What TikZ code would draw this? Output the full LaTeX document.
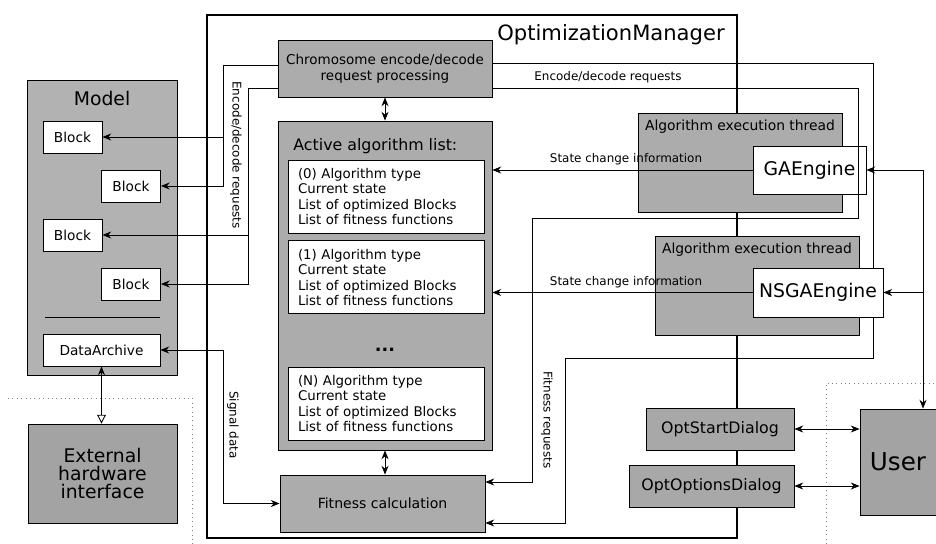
\documentclass[tikz,border=0pt]{standalone}
\usepackage{fontspec}
\setmainfont{DejaVu Sans}
\usetikzlibrary{positioning,arrows.meta,backgrounds}
\tikzstyle{area}=[draw, fill=gray!65, inner sep=0pt]
\tikzstyle{hwbox}=[draw, fill=gray!72, inner sep=0pt, align=center]
\tikzstyle{block}=[draw, fill=white, inner sep=0pt, minimum width=1.18cm, minimum height=0.64cm, font=\fontsize{7.8}{9}\selectfont]
\tikzstyle{entry}=[draw, fill=white, inner sep=0pt, align=left, text width=3.52cm, minimum width=3.92cm, minimum height=1.46cm, font=\fontsize{7.6}{8.8}\selectfont]
\tikzstyle{engine}=[draw, fill=white, inner sep=0pt, font=\fontsize{10.7}{12}\selectfont]
\tikzstyle{dialog}=[draw, fill=gray!68, inner sep=0pt, minimum height=0.84cm, font=\fontsize{9}{10}\selectfont]
\tikzstyle{heading}=[inner sep=1pt, font=\fontsize{7.9}{9}\selectfont]
\tikzstyle{lbl}=[inner sep=1pt, font=\fontsize{6.8}{8}\selectfont]

\begin{document}
\begin{tikzpicture}[x=0.02cm, y=-0.02cm, >={Stealth[length=5pt,width=4pt]}, line width=0.5pt]
	\useasboundingbox (0,0) rectangle (936,544);
	% boundaries
	\draw[gray, dotted] (8,398) -| (192,544);
	\draw[gray, dotted] (826,544) |- (936,383);
	% manager
	\node[draw, line width=0.9pt, minimum width=10.6cm, minimum height=10.46cm] (manager) at (472,276.5) {};
	\node[inner sep=1pt, font=\fontsize{12}{14}\selectfont] at (611,35) {OptimizationManager};
	% model
	\node[area, fill=gray!60, minimum width=3cm, minimum height=5.9cm] (model) at (102,227.5) {};
	\node[font=\fontsize{10.7}{12}\selectfont] at (102,98) {Model};
	\node[block] (block1) at (72.5,137) {Block};
	\node[block] (block2) at (131,186) {Block};
	\node[block] (block3) at (72.5,235) {Block};
	\node[block] (block4) at (131,284) {Block};
	\draw (45,317) -- (160,317);
	\node[block, minimum width=2.34cm] (archive) at (101.5,350) {DataArchive};
	\node[hwbox, minimum width=2.98cm, minimum height=1.98cm, font=\fontsize{10.7}{10.5}\selectfont] (hw) at (102.5,473.5) {External\\hardware\\interface};
	% algorithm list
	\node[area, minimum width=4.28cm, minimum height=1.14cm, align=center, font=\fontsize{7.7}{9}\selectfont] (chromo) at (385,68.5) {Chromosome encode/decode\\request processing};
	\node[area, minimum width=4.28cm, minimum height=6.58cm] (algolist) at (385,285.5) {};
	\node[anchor=west, inner sep=0pt, font=\fontsize{9}{10}\selectfont] at (293,146) {Active algorithm list:};
	\node[entry] (alg0) at (386,196.5) {(0) Algorithm type\\Current state\\List of optimized Blocks\\List of fitness functions};
	\node[entry, below=0.14cm of alg0] (alg1) {(1) Algorithm type\\Current state\\List of optimized Blocks\\List of fitness functions};
	\node[entry] (algN) at (386,403.5) {(N) Algorithm type\\Current state\\List of optimized Blocks\\List of fitness functions};
	\node[font=\bfseries] at (385,350) {...};
	\node[area, minimum width=4.1cm, minimum height=1.14cm, font=\fontsize{8}{9}\selectfont] (fitness) at (382.5,503.5) {Fitness calculation};
	% threads
	\node[area, minimum width=4.08cm, minimum height=1.98cm] (thread1) at (740,162.5) {};
	\node[heading] at (740,127) {Algorithm execution thread};
	\node[engine, minimum width=2.26cm, minimum height=0.96cm] (ga) at (809.5,170) {GAEngine};
	\node[area, minimum width=4.08cm, minimum height=1.98cm] (thread2) at (757,285.5) {};
	\node[heading] at (757,250) {Algorithm execution thread};
	\node[engine, minimum width=2.6cm, minimum height=0.98cm] (nsga) at (818,292.5) {NSGAEngine};
	% dialogs and user
	\node[dialog, minimum width=2.96cm] (optstart) at (720,429) {OptStartDialog};
	\node[dialog, minimum width=3.3cm] (optopt) at (711.5,486) {OptOptionsDialog};
	\node[hwbox, minimum width=1.52cm, minimum height=2.12cm, font=\fontsize{14}{16}\selectfont] (user) at (898,462) {User};
	% encode/decode to blocks
	\coordinate (encA) at (223,65);
	\coordinate (encB) at (248,88);
	\draw[->] (chromo.west |- encA) -- (encA) |- (block1.east);
	\draw[->] (encA) |- (block2.east);
	\draw[->] (chromo.west |- encB) -- (encB) |- (block3.east);
	\draw[->] (encB) |- (block4.east);
	\node[lbl, rotate=-90] at (236,155) {Encode/decode requests};
	% signal data
	\coordinate (sig) at (223,350);
	\draw[<->] (archive.east) -- (sig) |- (fitness.west);
	\node[lbl, rotate=-90] at (233,425) {Signal data};
	\draw[{Stealth[length=5pt,width=4pt]}-{Triangle[open,length=5pt,width=5pt]}] (archive.south) -- (archive.south |- hw.north);
	\draw[<->] (chromo) -- (algolist);
	\draw[<->] (algolist.south) -- (algolist.south |- fitness.north);
	% requests to fitness
	\coordinate (reqA) at (873,63);
	\coordinate (reqB) at (858,88);
	\coordinate (fitA) at (565,358);
	\coordinate (fitB) at (532,218);
	\begin{pgfonlayer}{background}
	\draw[->] (chromo.east |- reqA) -- (reqA) |- (fitA) |- (fitness.east |- 0,523);
	\end{pgfonlayer}
	\draw[->] (chromo.east |- reqB) -- (reqB) |- (fitB) |- (fitness.east |- 0,482);
	\node[lbl] at (608,77) {Encode/decode requests};
	\node[lbl, rotate=-90] at (547,420) {Fitness requests};
	% state changes
	\draw[->] (ga.west) -- (ga.west -| algolist.east);
	\node[lbl] at (626,159) {State change information};
	\draw[->] (nsga.west) -- (nsga.west -| algolist.east);
	\node[lbl] at (626,282) {State change information};
	% user
	\coordinate (usr) at (923,170);
	\draw[<->] (ga.east) -- (usr) -- (usr |- user.north);
	\draw[->] (usr |- nsga.east) -- (nsga.east);
	\draw[<->] (optstart.east) -- (optstart.east -| user.west);
	\draw[<->] (optopt.east) -- (optopt.east -| user.west);
\end{tikzpicture}
\end{document}
